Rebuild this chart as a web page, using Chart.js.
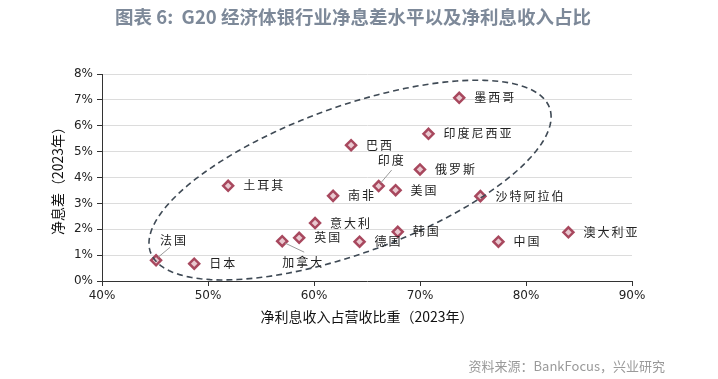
<!DOCTYPE html>
<html>
<head>
<meta charset="utf-8">
<script src="https://cdn.jsdelivr.net/npm/chart.js@4"></script>
<style>
  html, body { margin: 0; padding: 0; background: #fff; }
  #wrap { width: 718px; height: 379px; }
</style>
</head>
<body>
<div id="wrap"><canvas id="nimChart"></canvas></div>
<script>
// 국가별 데이터
const countries = ["法国", "日本", "土耳其", "加拿大", "英国", "意大利", "南非", "巴西", "墨西哥",
  "印度尼西亚", "俄罗斯", "印度", "美国", "沙特阿拉伯", "韩国", "德国", "中国", "澳大利亚"];
const incomeShare = [45.1, 48.7, 51.9, 57.0, 58.6, 60.1, 61.8, 63.5, 73.7,
  70.8, 70.0, 66.1, 67.7, 75.7, 67.9, 64.3, 77.4, 84.0];
const netMargin = [0.80, 0.67, 3.68, 1.54, 1.67, 2.24, 3.29, 5.25, 7.08,
  5.69, 4.31, 3.67, 3.51, 3.28, 1.90, 1.52, 1.52, 1.88];
const xTicks = [40, 50, 60, 70, 80, 90];
const yTicks = [0, 1, 2, 3, 4, 5, 6, 7, 8];

// 라벨 위치 (px 오프셋), 지정 없으면 오른쪽
const labelPlace = {
  "法国": { dx: 4, dy: -20, lead: [2, -3, 14, -13] },
  "加拿大": { dx: 0, dy: 21, lead: [3, 2, 22, 11] },
  "印度": { dx: -1, dy: -26, lead: [2, -3, 13, -16] },
};

// 점선 타원 (데이터 단위: 중심, 두 반지름 벡터)
const ringCenter = [63.4, 3.90];
const ringA = [18.97, 2.44];
const ringB = [0, 2.99];

const ringPlugin = {
  id: "ring",
  afterDatasetsDraw(chart) {
    const { ctx, scales: { x, y } } = chart;
    ctx.save();
    ctx.strokeStyle = "#3f4a55";
    ctx.lineWidth = 1.6;
    ctx.setLineDash([6, 4]);
    ctx.beginPath();
    for (let i = 0; i <= 180; i++) {
      const t = (i / 180) * Math.PI * 2;
      const vx = ringCenter[0] + ringA[0] * Math.cos(t) + ringB[0] * Math.sin(t);
      const vy = ringCenter[1] + ringA[1] * Math.cos(t) + ringB[1] * Math.sin(t);
      const px = x.getPixelForValue(vx);
      const py = y.getPixelForValue(vy);
      if (i === 0) ctx.moveTo(px, py);
      else ctx.lineTo(px, py);
    }
    ctx.stroke();
    ctx.restore();

    // 국가 이름
    const meta = chart.getDatasetMeta(0);
    ctx.save();
    ctx.font = "12px 'Noto Sans CJK SC'";
    ctx.letterSpacing = "2px";
    ctx.fillStyle = "#222";
    ctx.textBaseline = "middle";
    meta.data.forEach((pt, i) => {
      const name = countries[i];
      const p = labelPlace[name];
      if (p) {
        ctx.strokeStyle = "#9a9a9a";
        ctx.lineWidth = 1;
        ctx.beginPath();
        ctx.moveTo(pt.x + p.lead[0], pt.y + p.lead[1]);
        ctx.lineTo(pt.x + p.lead[2], pt.y + p.lead[3]);
        ctx.stroke();
        ctx.fillText(name, pt.x + p.dx, pt.y + p.dy);
      } else {
        ctx.fillText(name, pt.x + 15, pt.y);
      }
    });
    ctx.restore();

    // 제목 + 출처
    ctx.save();
    ctx.textBaseline = "middle";
    ctx.font = "bold 18.5px 'Noto Sans CJK SC'";
    ctx.fillStyle = "#7d8999";
    ctx.textAlign = "center";
    ctx.fillText("图表 6:  G20 经济体银行业净息差水平以及净利息收入占比", 353, 17);
    ctx.font = "13px 'Noto Sans CJK SC'";
    ctx.fillStyle = "#9a9a9a";
    ctx.textAlign = "right";
    ctx.fillText("资料来源：BankFocus，兴业研究", 665, 366);
    ctx.restore();
  },
};

const ctxNim = document.getElementById("nimChart").getContext("2d");

const nimChart = new Chart(ctxNim, {
  type: "scatter",
  data: {
    datasets: [
      {
        label: "净息差",
        data: incomeShare.map((v, i) => ({ x: v, y: netMargin[i] })),
        pointStyle: "rectRot",
        pointRadius: 5,
        pointBackgroundColor: "#e9c9d0",
        pointBorderColor: "#a8485e",
        pointBorderWidth: 2.5,
      },
    ],
  },
  options: {
    responsive: true,
    maintainAspectRatio: false,
    animation: false,
    layout: {
      padding: { top: 74, right: 86, bottom: 0, left: 0 },
    },
    plugins: {
      legend: { display: false },
      tooltip: { enabled: false },
      title: { display: false },
    },
    scales: {
      x: {
        type: "linear",
        min: 40,
        max: 90,
        afterBuildTicks: (s) => { s.ticks = xTicks.map((v) => ({ value: v })); },
        afterFit: (s) => { s.height = 98; },
        grid: {
          drawOnChartArea: false,
          drawTicks: true,
          tickLength: 5,
          color: "#333",
        },
        border: { color: "#333", width: 1 },
        ticks: {
          color: "#222",
          font: { family: "'DejaVu Sans'", size: 12 },
          padding: 3,
          callback: (v) => `${v}%`,
        },
        title: {
          display: true,
          text: "净利息收入占营收比重（2023年）",
          color: "#111",
          font: { family: "'Noto Sans CJK SC'", size: 14 },
          padding: { top: 0, bottom: 53.6 },
        },
      },
      y: {
        min: 0,
        max: 8,
        afterBuildTicks: (s) => { s.ticks = yTicks.map((v) => ({ value: v })); },
        afterFit: (s) => { s.width = 102; },
        grid: {
          color: (c) => (c.tick && c.tick.value === 0 ? "rgba(0,0,0,0)" : "#dcdcdc"),
          tickColor: "#333",
          tickLength: 5,
        },
        border: { color: "#333", width: 1 },
        ticks: {
          color: "#222",
          font: { family: "'DejaVu Sans'", size: 12 },
          padding: 4,
          callback: (v) => `${v}%`,
        },
        title: {
          display: true,
          text: "净息差（2023年）",
          color: "#111",
          font: { family: "'Noto Sans CJK SC'", size: 14 },
          padding: { top: 49.6, bottom: 0 },
        },
      },
    },
  },
  plugins: [ringPlugin],
});
</script>
</body>
</html>
